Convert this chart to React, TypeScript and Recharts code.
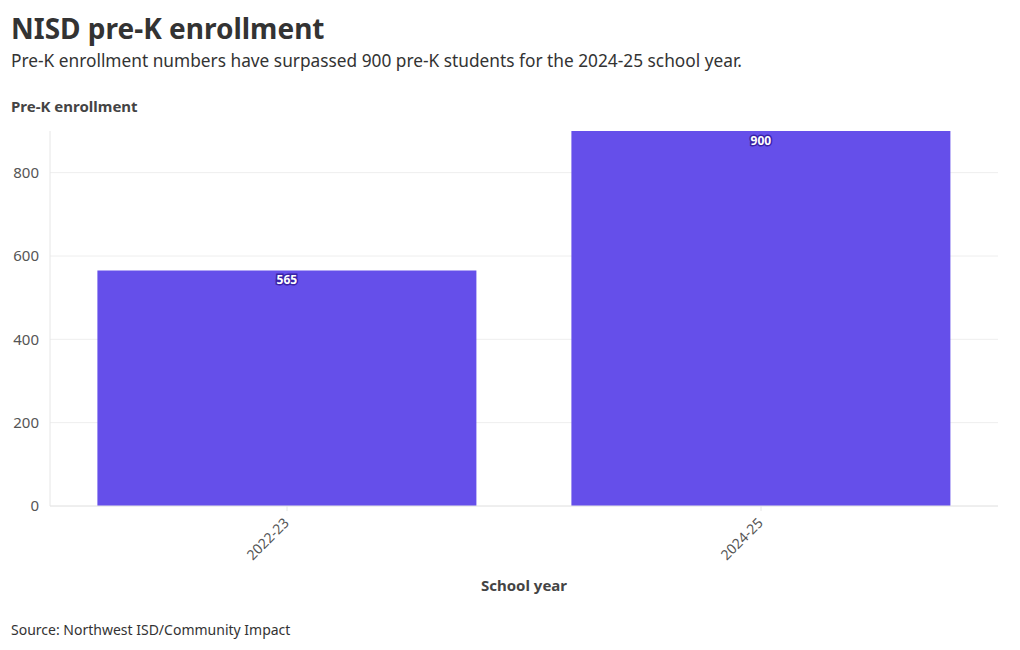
import React from 'react';
import { BarChart, Bar, XAxis, YAxis, CartesianGrid, LabelList } from 'recharts';

const schoolYears = ['2022-23', '2024-25'];
const enrollment = [565, 900];
const yTicks = [0, 200, 400, 600, 800];

const data = schoolYears.map((year, i) => ({ year, enrollment: enrollment[i] }));

const font = '"Noto Sans", "Open Sans", sans-serif';

const XTick = (props: any) => {
  const { x, y, payload } = props;
  return (
    <g transform={`translate(${x},${y + 8})`}>
      <text textAnchor="end" transform="rotate(-45)" fontSize={14} fill="#555" fontFamily={font} dy={4}>
        {payload.value}
      </text>
    </g>
  );
};

export default function App() {
  return (
    <div style={{ position: 'relative', width: 1020, height: 650, margin: -8, fontFamily: font, color: '#333', background: '#fff' }}>
      <div style={{ position: 'absolute', left: 11, top: 9, fontSize: 28, fontWeight: 700, color: '#333' }}>NISD pre-K enrollment</div>
      <div style={{ position: 'absolute', left: 11, top: 49, fontSize: 17.3, color: '#333' }}>
        Pre-K enrollment numbers have surpassed 900 pre-K students for the 2024-25 school year.
      </div>
      <div style={{ position: 'absolute', left: 11, top: 96, fontSize: 15, fontWeight: 700, color: '#444' }}>Pre-K enrollment</div>
      <div style={{ position: 'absolute', left: 50, width: 948, top: 575, textAlign: 'center', fontSize: 15, fontWeight: 700, color: '#444' }}>School year</div>
      <div style={{ position: 'absolute', left: 11, top: 620, fontSize: 14, color: '#333' }}>Source: Northwest ISD/Community Impact</div>
      <div style={{ position: 'absolute', left: 0, top: 0 }}>
        <BarChart width={1020} height={650} data={data} margin={{ top: 131, right: 22, bottom: 84, left: 10 }} barCategoryGap="10%">
          <CartesianGrid stroke="#eee" vertical={false} horizontalValues={yTicks} />
          <XAxis dataKey="year" tick={<XTick />} stroke="#e6e6e6" tickSize={5} height={60} interval={0} />
          <YAxis
            domain={[0, 900]}
            ticks={yTicks}
            width={40}
            tickLine={false}
            tickSize={0}
            tickMargin={11}
            stroke="#e6e6e6"
            tick={{ fill: '#555', fontSize: 15, fontFamily: font }}
          />
          <Bar dataKey="enrollment" fill="#654fea" isAnimationActive={false}>
            <LabelList
              dataKey="enrollment"
              position="insideTop"
              offset={5}
              fill="#fff"
              stroke="#3a22a8"
              strokeWidth={3}
              paintOrder="stroke"
              fontSize={12}
              fontWeight={700}
              fontFamily={font}
            />
          </Bar>
        </BarChart>
      </div>
    </div>
  );
}
